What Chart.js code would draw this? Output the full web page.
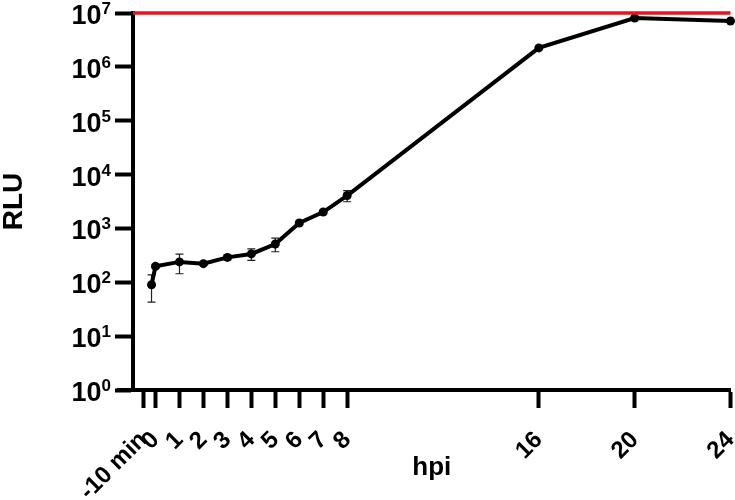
<!DOCTYPE html>
<html>
<head>
<meta charset="utf-8">
<script src="https://cdn.jsdelivr.net/npm/chart.js@4.4.1/dist/chart.umd.min.js"></script>
<style>
  html, body { margin: 0; padding: 0; background: #fff; }
  #wrap { width: 735px; height: 500px; }
</style>
</head>
<body>
<div id="wrap"><canvas id="rlu-chart"></canvas></div>
<script>
// time after infection (hours), first point is -10 min
const hours = [-10 / 60, 0, 1, 2, 3, 4, 5, 6, 7, 8, 16, 20, 24];
const rlu = [90, 198, 239, 222, 290, 336, 514, 1260, 2015, 4080, 2250000, 8070000, 7100000];
const rluSD = [47, 15, 95, 15, 30, 80, 145, 100, 150, 950, 0, 0, 0];

const xTickPos = [-0.5, 0, 1, 2, 3, 4, 5, 6, 7, 8, 16, 20, 24];
const xTickLabels = ["-10 min", "0", "1", "2", "3", "4", "5", "6", "7", "8", "16", "20", "24"];
const yTickPos = [1, 10, 100, 1000, 10000, 100000, 1000000, 10000000];
const yTickExp = ["0", "1", "2", "3", "4", "5", "6", "7"];
const limitRLU = 10000000;
const xMin = -0.94;
const xMax = 24;

const fam = '"Liberation Sans", Arial, Helvetica, sans-serif';
Chart.defaults.font.family = fam;

// SD bars, drawn under the line
const errorBars = {
  id: "errorBars",
  beforeDatasetsDraw(chart) {
    const ctx = chart.ctx;
    const y = chart.scales.y;
    const meta = chart.getDatasetMeta(0);
    ctx.save();
    ctx.strokeStyle = "#222";
    ctx.lineWidth = 1.2;
    meta.data.forEach((pt, i) => {
      const sd = rluSD[i];
      if (!sd) return;
      const top = y.getPixelForValue(rlu[i] + sd);
      const bot = y.getPixelForValue(Math.max(rlu[i] - sd, 1));
      ctx.beginPath();
      ctx.moveTo(pt.x, top); ctx.lineTo(pt.x, bot);
      ctx.moveTo(pt.x - 4, top); ctx.lineTo(pt.x + 4, top);
      ctx.moveTo(pt.x - 4, bot); ctx.lineTo(pt.x + 4, bot);
      ctx.stroke();
    });
    ctx.restore();
  }
};

// 10^n labels + small stub of x axis left of the y axis
const axisExtras = {
  id: "axisExtras",
  afterDraw(chart) {
    const ctx = chart.ctx;
    const y = chart.scales.y;
    const area = chart.chartArea;
    const right = area.left - 22;
    ctx.save();
    ctx.fillStyle = "#000";
    ctx.textBaseline = "alphabetic";
    yTickPos.forEach((v, i) => {
      const py = y.getPixelForValue(v);
      ctx.font = "bold 17px " + fam;
      const ew = ctx.measureText(yTickExp[i]).width;
      ctx.textAlign = "left";
      ctx.fillText(yTickExp[i], right - ew, py + 1);
      ctx.font = "bold 27px " + fam;
      ctx.textAlign = "right";
      ctx.fillText("10", right - ew, py + 11);
    });
    ctx.strokeStyle = "#000";
    ctx.lineWidth = 4;
    ctx.beginPath();
    ctx.moveTo(area.left - 16, area.bottom);
    ctx.lineTo(area.left, area.bottom);
    ctx.stroke();
    ctx.restore();
  }
};

new Chart(document.getElementById("rlu-chart"), {
  type: "line",
  data: {
    datasets: [
      {
        label: "RLU",
        data: hours.map((h, i) => ({ x: h, y: rlu[i] })),
        borderColor: "#000",
        backgroundColor: "#000",
        borderWidth: 4,
        pointRadius: 4.5,
        pointBorderWidth: 0,
        pointBackgroundColor: "#000",
        tension: 0,
        clip: false,
      },
      {
        label: "limit",
        data: [{ x: xMin, y: limitRLU }, { x: xMax, y: limitRLU }],
        borderColor: "#e8141b",
        borderWidth: 3.5,
        pointRadius: 0,
        clip: false,
        order: -1,
      },
    ],
  },
  options: {
    responsive: true,
    maintainAspectRatio: false,
    animation: false,
    layout: { padding: { top: 13, right: 4, left: 0, bottom: 0 } },
    plugins: { legend: { display: false }, tooltip: { enabled: false } },
    scales: {
      x: {
        type: "linear",
        min: xMin,
        max: xMax,
        afterBuildTicks: (s) => { s.ticks = xTickPos.map((v) => ({ value: v })); },
        afterFit: (s) => { s.height = 110; s.paddingLeft = 0; s.paddingRight = 0; },
        grid: { drawOnChartArea: false, drawTicks: true, tickLength: 18, tickWidth: 4, tickColor: "#000" },
        border: { display: true, color: "#000", width: 4 },
        ticks: {
          autoSkip: false,
          maxRotation: 45,
          minRotation: 45,
          padding: 18,
          color: "#000",
          font: { size: 24, weight: "bold" },
          callback: (v, i) => xTickLabels[i],
        },
        title: {
          display: true,
          text: "hpi",
          color: "#000",
          font: { size: 26, weight: "bold", lineHeight: 1 },
          padding: { top: 0, bottom: 19 },
        },
      },
      y: {
        type: "logarithmic",
        min: 1,
        max: 10000000,
        afterBuildTicks: (s) => { s.ticks = yTickPos.map((v) => ({ value: v })); },
        afterFit: (s) => { s.width = 133; },
        grid: { drawOnChartArea: false, drawTicks: true, tickLength: 18, tickWidth: 4, tickColor: "#000" },
        border: { display: true, color: "#000", width: 4 },
        ticks: { display: false },
        title: {
          display: true,
          text: "RLU",
          color: "#000",
          font: { size: 28, weight: "bold", lineHeight: 1 },
          padding: 0,
        },
      },
    },
  },
  plugins: [errorBars, axisExtras],
});
</script>
</body>
</html>
